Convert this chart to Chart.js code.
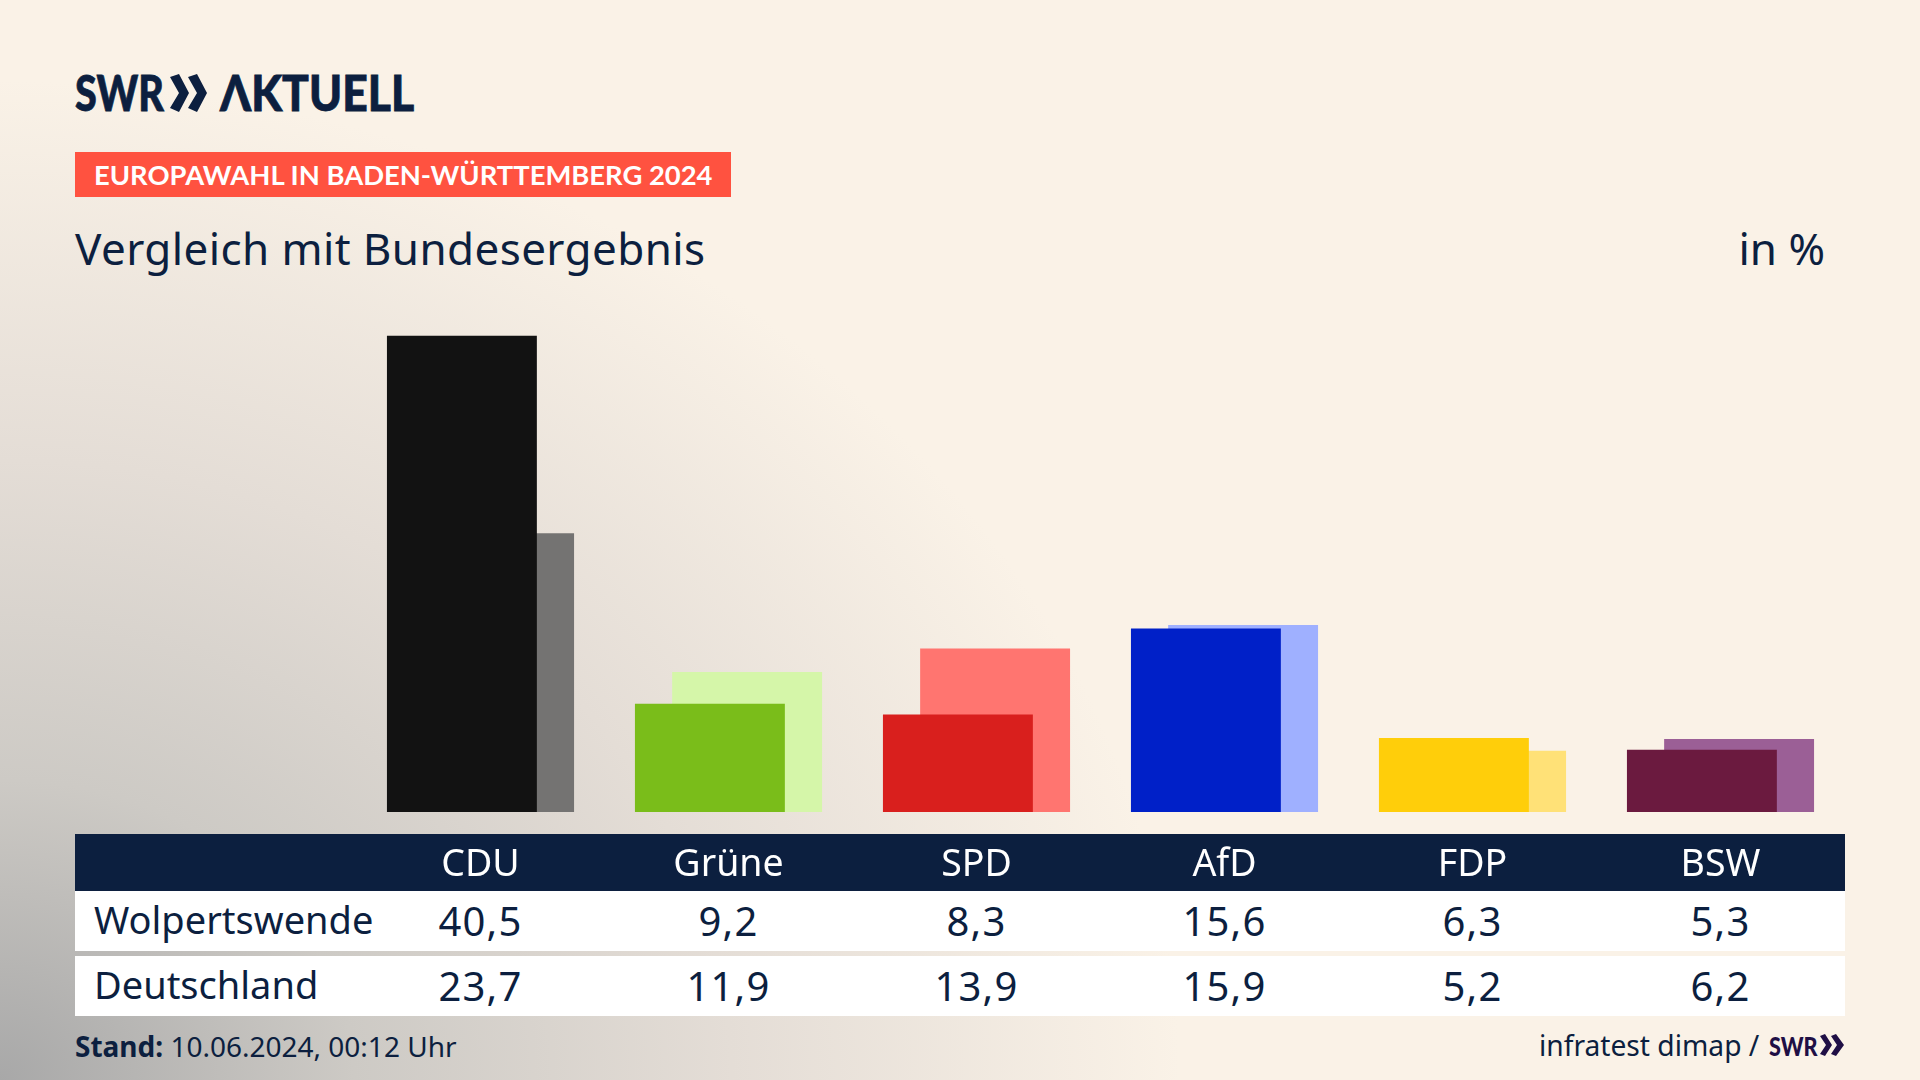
<!DOCTYPE html>
<html lang="de">
<head>
<meta charset="utf-8">
<title>Europawahl in Baden-Württemberg 2024</title>
<script src="https://cdn.jsdelivr.net/npm/chart.js@4/dist/chart.umd.min.js"></script>
<style>
  html, body { margin: 0; padding: 0; }
  body {
    position: relative; width: 1920px; height: 1080px; overflow: hidden;
    font-family: "Noto Sans", Lato, sans-serif; color: #0c1f3f;
    background:
      radial-gradient(ellipse 1180px 1000px at 0 1080px, #a8a8a8 0%, #cdcac5 30%, #e4ddd6 62%, rgba(250,242,231,0) 100%),
      #faf2e7;
  }
  .abs { position: absolute; white-space: nowrap; }
  canvas { position: absolute; left: 0; top: 0; z-index: 2; }

  .logo { top: 64px; font-family: Lato; font-weight: 900; font-size: 50px; line-height: 56px; transform-origin: 0 0; -webkit-text-stroke: 0.8px #0c1f3f; }
  .band { left: 75px; top: 152px; width: 656px; height: 45px; background: #ff5240; }
  .band span { position: absolute; left: 19px; top: 5px; color: #fff; font-family: Lato; font-size: 27.4px; line-height: 36px; font-weight: 700; white-space: nowrap; }
  .title { left: 75px; top: 218px; font-size: 44px; letter-spacing: 0.4px; line-height: 60px; }
  .unit { right: 95px; top: 218px; font-size: 44px; line-height: 60px; }

  .head { left: 75px; top: 834px; width: 1770px; height: 57px; background: #0c1f3f; z-index: 1; }
  .row { position: absolute; left: 75px; width: 1770px; height: 60px; background: #fff; display: grid;
         grid-template-columns: 281.5px repeat(6, 248px); align-items: center; font-size: 40px; letter-spacing: 1.2px; }
  .row div { text-align: center; position: relative; top: -1px; }
  .row div:first-child { text-align: left; padding-left: 19px; font-size: 38px; letter-spacing: 0; top: -2px; }

  .stand { left: 75px; top: 1027px; font-size: 28px; line-height: 38px; }
  .source { left: 1539px; top: 1026px; font-size: 28.2px; line-height: 38px; }
  .small-logo { left: 1769px; top: 1030px; font-family: Lato; font-weight: 900; font-size: 27px; line-height: 32px; color: #1f0f45; transform-origin: 0 0; transform: scaleX(0.8); }
</style>
</head>
<body>
<div class="abs logo" style="left:75px;transform:scaleX(0.79)">SWR</div>
<svg class="abs" style="left:170px;top:74px" width="37" height="38" viewBox="0 0 37 38">
  <polygon fill="#0c1f3f" points="0,3 9,0 19,19 9,38 0,34 9,19"/>
  <polygon fill="#0c1f3f" points="18,3 27,0 37,19 27,38 18,34 27,19"/>
</svg>
<div class="abs logo" style="left:220px;transform:scaleX(0.89)">ΛKTUELL</div>

<div class="abs band"><span>EUROPAWAHL IN BADEN-WÜRTTEMBERG 2024</span></div>
<div class="abs title">Vergleich mit Bundesergebnis</div>
<div class="abs unit">in %</div>

<div class="abs head"></div>
<div class="row" id="row1" style="top:891px"></div>
<div class="row" id="row2" style="top:956px"></div>

<div class="abs stand"><b>Stand:</b> 10.06.2024, 00:12 Uhr</div>
<div class="abs source">infratest dimap /</div>
<div class="abs small-logo">SWR</div>
<svg class="abs" style="left:1820px;top:1034px" width="24" height="22" viewBox="0 0 24 22">
  <polygon fill="#1f0f45" points="0,2 5,0 12,11 5,22 0,20 6,11"/>
  <polygon fill="#1f0f45" points="11,2 16,0 24,11 16,22 11,20 17,11"/>
</svg>

<canvas id="chart" width="1920" height="1080"></canvas>

<script>
var parties = ["CDU", "Grüne", "SPD", "AfD", "FDP", "BSW"];
var gemeinde = [40.5, 9.2, 8.3, 15.6, 6.3, 5.3];
var bund = [23.7, 11.9, 13.9, 15.9, 5.2, 6.2];
var gemeindeLabel = "Wolpertswende";
var bundLabel = "Deutschland";
var frontColors = ["#121212", "#7abd1a", "#d91f1d", "#0020c8", "#ffce0a", "#6b1a3f"];
var backColors = ["#747372", "#d5f6a9", "#ff7570", "#9fb0ff", "#ffe177", "#9b5f96"];

function fmt(v) { return v.toFixed(1).replace(".", ","); }

function fillRow(id, label, vals) {
  document.getElementById(id).innerHTML = "<div>" + label + "</div>" +
    vals.map(function(v) { return "<div>" + fmt(v) + "</div>"; }).join("");
}
fillRow("row1", gemeindeLabel, gemeinde);
fillRow("row2", bundLabel, bund);

// erster Datensatz liegt vorn, Überlappung kommt über barPercentage > 1
new Chart(document.getElementById("chart").getContext("2d"), {
  type: "bar",
  data: {
    labels: parties,
    datasets: [
      { label: gemeindeLabel, data: gemeinde, backgroundColor: frontColors },
      { label: bundLabel, data: bund, backgroundColor: backColors }
    ]
  },
  options: {
    responsive: false,
    animation: false,
    categoryPercentage: 0.3,
    barPercentage: 4.03,
    layout: { padding: { left: 356.5, right: 75.5, top: 282.8, bottom: 189 } },
    plugins: { legend: { display: false }, tooltip: { enabled: false } },
    scales: {
      x: {
        afterFit: function(scale) { scale.height = 79; },
        grid: { display: false },
        border: { display: false },
        ticks: { color: "#ffffff", font: { family: "Noto Sans", size: 37.5 }, padding: 23, maxRotation: 0 }
      },
      y: { display: false, min: 0, max: 45 }
    }
  }
});
</script>
</body>
</html>
